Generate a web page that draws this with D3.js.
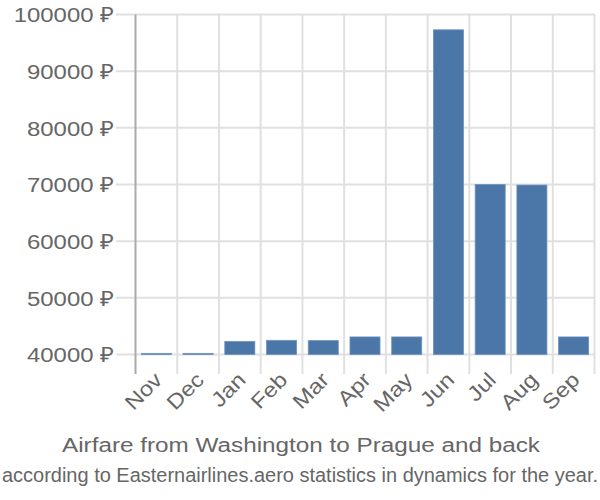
<!DOCTYPE html>
<html><head><meta charset="utf-8">
<script src="https://cdn.jsdelivr.net/npm/d3@7"></script>
<style>body{margin:0;background:#fff}svg{display:block}text{font-family:"Liberation Sans",Arial,sans-serif}</style>
</head><body><svg id="c" width="600" height="500"></svg>
<script>
const categories = ["Nov","Dec","Jan","Feb","Mar","Apr","May","Jun","Jul","Aug","Sep"];
const values = [40200,40200,42300,42500,42450,43100,43100,97300,70000,69900,43100];
const yTicks = [40000,50000,60000,70000,80000,90000,100000];
const title = "Airfare from Washington to Prague and back";
const subtitle = "according to Easternairlines.aero statistics in dynamics for the year.";

(function(){
const svg = d3.select("#c");
const pL = 135.5, pR = 594.5, pT = 14.5, pB = 354.5;
const x = d3.scaleBand().domain(categories).range([pL, pR]).paddingInner(0.28).paddingOuter(0.14);
const xb = d3.scaleBand().domain(categories).range([pL, pR]);
const y = d3.scaleLinear().domain([40000, 100000]).range([pB, pT]);

const g = svg.append("g");
g.selectAll("line.h").data(yTicks).join("line")
  .attr("x1", 116).attr("x2", pR).attr("y1", d => y(d)).attr("y2", d => y(d))
  .attr("stroke", "#e0e0e0").attr("stroke-width", 2);
const bounds = categories.map(c => xb(c)).concat([pR]);
g.selectAll("line.v").data(bounds.slice(1)).join("line")
  .attr("x1", d => d).attr("x2", d => d).attr("y1", pT).attr("y2", 374)
  .attr("stroke", "#e0e0e0").attr("stroke-width", 2);
g.append("line").attr("x1", pL).attr("x2", pL).attr("y1", pT).attr("y2", 374)
  .attr("stroke", "#aaa").attr("stroke-width", 2);

g.selectAll("rect.bar").data(values).join("rect")
  .attr("x", (d,i) => x(categories[i])).attr("width", x.bandwidth())
  .attr("y", d => y(d)).attr("height", d => y(40000) - y(d))
  .attr("fill", "#4a76a8").attr("stroke", "#6e93bd").attr("stroke-width", 0.8);

const yAxis = d3.axisLeft(y).tickValues(yTicks).tickSize(0).tickPadding(0).tickFormat(d => d + " ₽");
const ya = svg.append("g").attr("transform", "translate(114,0)").call(yAxis);
ya.select(".domain").remove();
ya.selectAll("text").attr("font-size", 21).attr("fill", "#666").attr("dy", "0.35em")
  .attr("x", 0).attr("text-anchor", "end").attr("transform", "scale(1.14,1)")
  .style("font-family", '"Liberation Sans",Arial,sans-serif');

const xAxis = d3.axisBottom(xb).tickSize(0).tickPadding(0);
const xa = svg.append("g").call(xAxis);
xa.select(".domain").remove();
xa.selectAll(".tick").attr("transform", d => `translate(${xb(d)+xb.bandwidth()/2+2},376)`);
xa.selectAll("text").attr("font-size", 21).attr("fill", "#666").attr("text-anchor", "end")
  .attr("dy", "0.35em").attr("y", 0).attr("transform", "rotate(-45) scale(1.14,1)")
  .style("font-family", '"Liberation Sans",Arial,sans-serif');

svg.append("text").attr("x", 301).attr("y", 452).attr("text-anchor", "middle")
  .attr("font-size", 19.5).attr("fill", "#666")
  .attr("textLength", 478).attr("lengthAdjust", "spacingAndGlyphs").text(title);
svg.append("text").attr("x", 300).attr("y", 482).attr("text-anchor", "middle")
  .attr("font-size", 19.5).attr("fill", "#666")
  .attr("textLength", 596).attr("lengthAdjust", "spacingAndGlyphs").text(subtitle);
})();
</script></body></html>
